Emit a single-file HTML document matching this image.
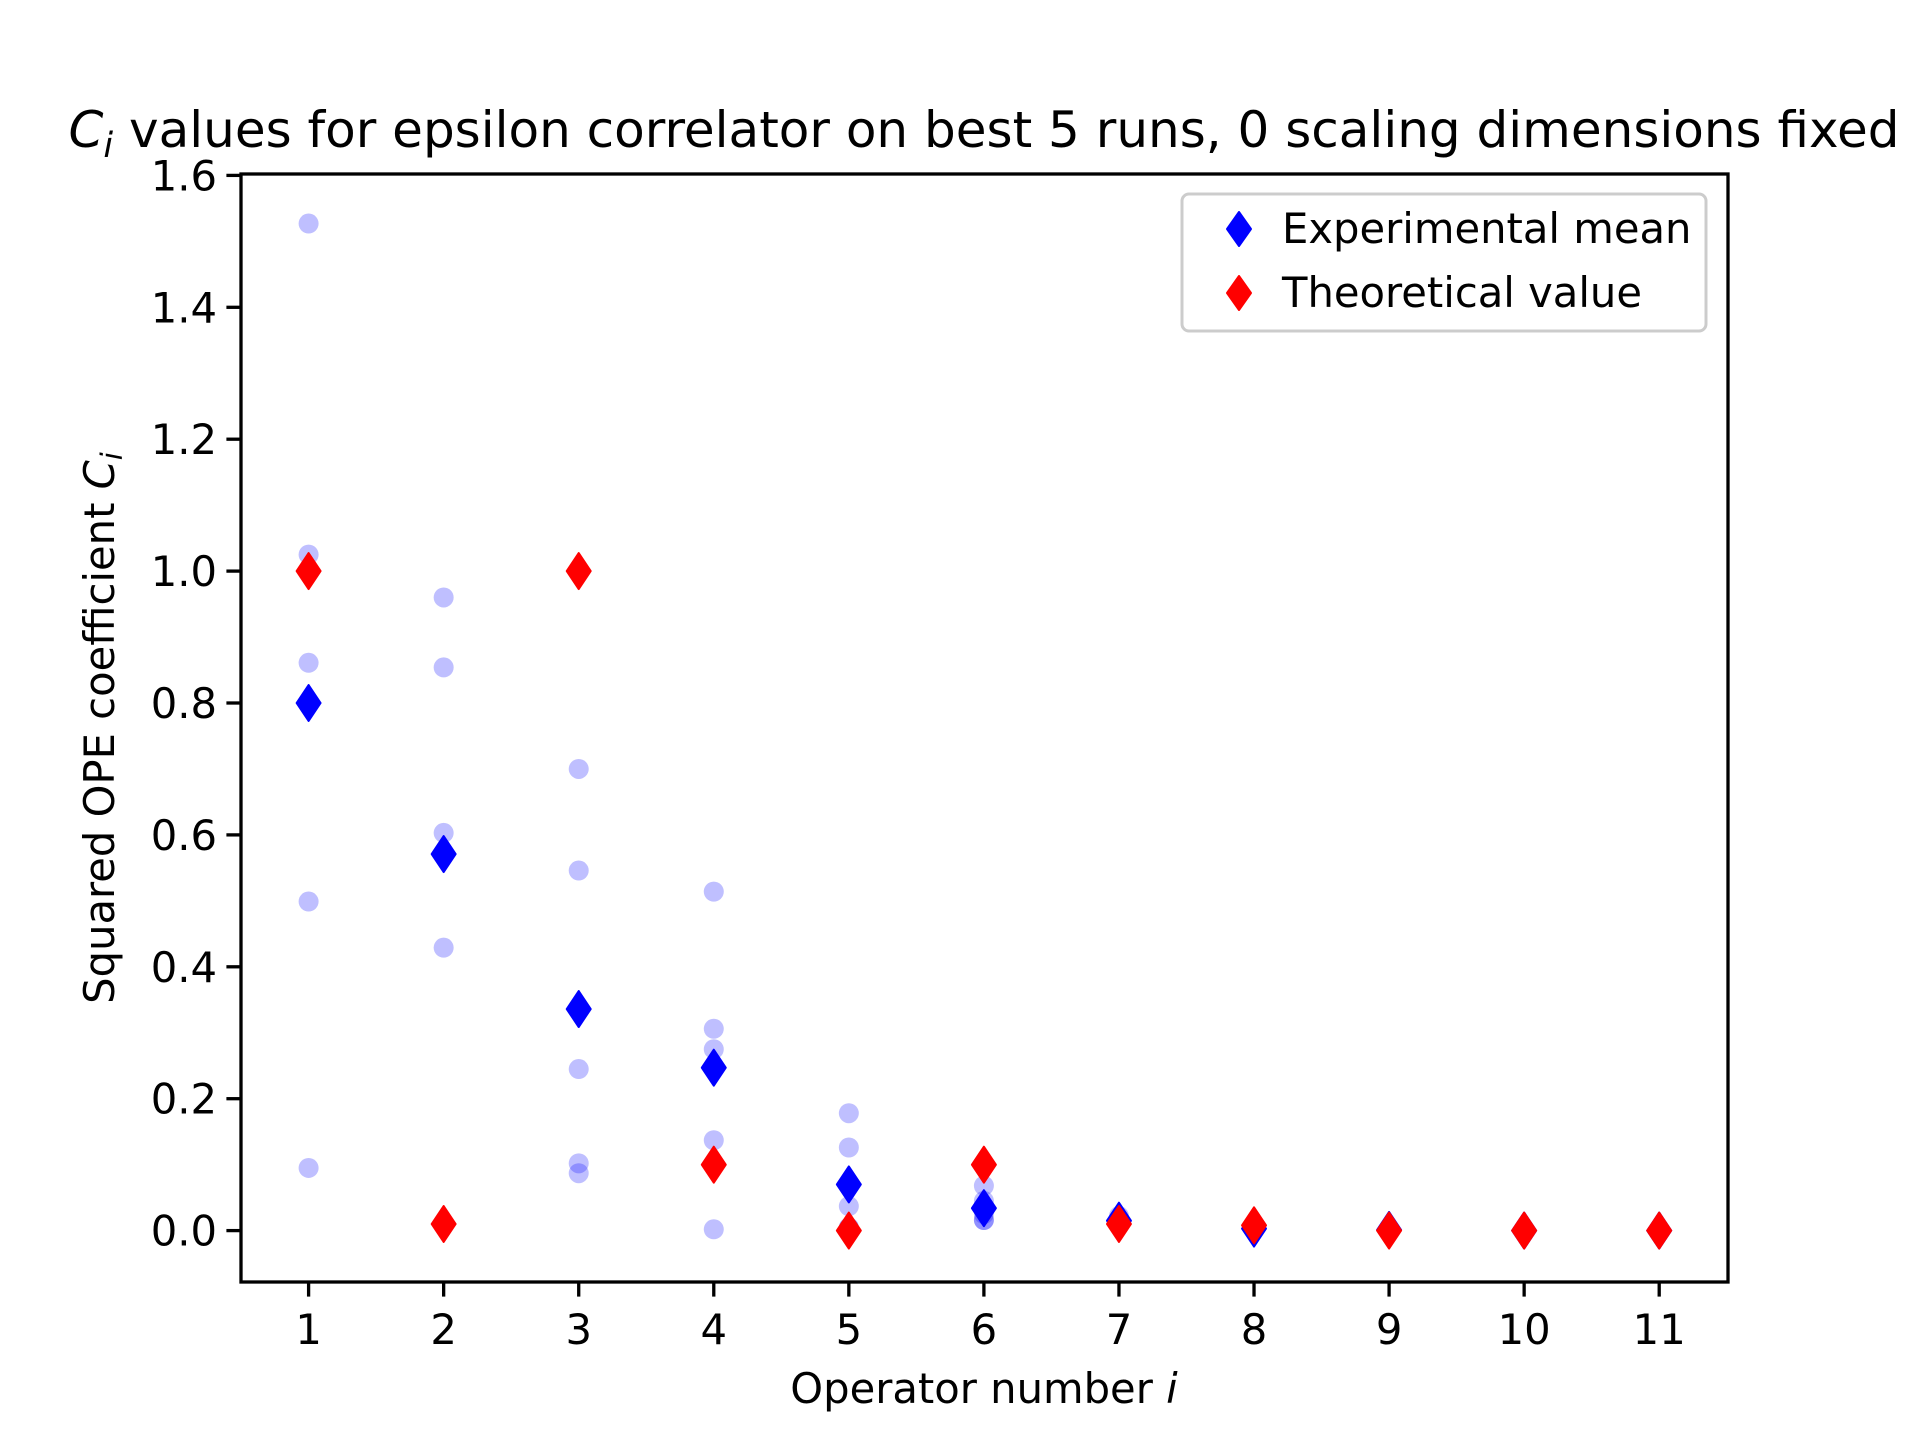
<!DOCTYPE html>
<html><head><meta charset="utf-8"><style>
html,body{margin:0;padding:0;background:#fff;}
svg{display:block;font-family:"DejaVu Sans","Liberation Sans",sans-serif;}
</style></head><body>
<svg id="chart" width="1920" height="1440" viewBox="0 0 1920 1440" xmlns="http://www.w3.org/2000/svg">
<rect x="0" y="0" width="1920" height="1440" fill="#fff"/>
<g id="marks"></g>
<g id="axes"></g>
<text x="984" y="147" font-size="50" text-anchor="middle"><tspan font-style="italic">C</tspan><tspan font-style="italic" font-size="35" dy="10">i</tspan><tspan dy="-10"> values for epsilon correlator on best 5 runs, 0 scaling dimensions fixed</tspan></text>
<text x="984" y="1403" font-size="41.7" text-anchor="middle">Operator number <tspan font-style="italic">i</tspan></text>
<text transform="translate(114,728) rotate(-90)" font-size="41.7" text-anchor="middle">Squared OPE coefficient <tspan font-style="italic">C</tspan><tspan font-style="italic" font-size="29" dy="8">i</tspan></text>
<g>
<rect x="1182" y="194" width="524" height="137" rx="7" fill="#fff" fill-opacity="0.8" stroke="#ccc" stroke-width="3"/>
<path d="M1239 212 L1251 229 L1239 246 L1227 229 Z" fill="#0000ff" stroke="#0000ff" stroke-width="2" stroke-linejoin="round"/>
<text x="1282" y="243" font-size="41.7">Experimental mean</text>
<path d="M1239 276 L1251 293 L1239 310 L1227 293 Z" fill="#ff0000" stroke="#ff0000" stroke-width="2" stroke-linejoin="round"/>
<text x="1282" y="307" font-size="41.7">Theoretical value</text>
</g>
</svg>
<script>
const operators = [1,2,3,4,5,6,7,8,9,10,11];
const runValues = [
  [1.527,1.025,0.861,0.499,0.095],
  [0.96,0.854,0.603,0.429,0.009],
  [0.70,0.546,0.245,0.102,0.087],
  [0.514,0.306,0.275,0.137,0.002],
  [0.178,0.126,0.037,0.005,0.004],
  [0.068,0.045,0.025,0.016,0.016],
  [0.022,0.018,0.015,0.012,0.008],
  [0.006,0.004,0.003,0.002,0.001],
  [0.001,0.001,0.001,0.0,0.0],
  [0.001,0.0,0.0,0.0,0.0],
  [0.0,0.0,0.0,0.0,0.0]
];
const meanValues = [0.80,0.571,0.336,0.247,0.070,0.034,0.015,0.003,0.001,0.0,0.0];
const theoryValues = [1.0,0.01,1.0,0.1,0.0,0.1,0.01,0.008,0.0,0.0,0.0];
const xTicks = [1,2,3,4,5,6,7,8,9,10,11];
const yTicks = [0.0,0.2,0.4,0.6,0.8,1.0,1.2,1.4,1.6];

const L=241,R=1728,T=174,B=1282;
function xs(v){return 308.6+(v-1)*135.06;}
function ys(v){return 1230.6-v*659.5;}
const NS='http://www.w3.org/2000/svg';
const marks=document.getElementById('marks');
const axes=document.getElementById('axes');
function mk(tag,attrs,parent){const e=document.createElementNS(NS,tag);for(const k in attrs)e.setAttribute(k,attrs[k]);parent.appendChild(e);return e;}
function diamond(x,y){return `M${x} ${y-18} L${x+12} ${y} L${x} ${y+18} L${x-12} ${y} Z`;}

runValues.forEach((arr,i)=>{arr.forEach(v=>{
  const c=mk('circle',{cx:xs(operators[i]),cy:ys(v),r:10,fill:'#0000ff','fill-opacity':0.25},marks);
  
  
});});
meanValues.forEach((v,i)=>{
  const p=mk('path',{d:diamond(xs(operators[i]),ys(v)),fill:'#0000ff',stroke:'#0000ff','stroke-width':2,'stroke-linejoin':'round'},marks);
  
  
});
theoryValues.forEach((v,i)=>{
  const p=mk('path',{d:diamond(xs(operators[i]),ys(v)),fill:'#ff0000',stroke:'#ff0000','stroke-width':2,'stroke-linejoin':'round'},marks);
  
  
});

const frame=mk('rect',{x:L,y:T,width:R-L,height:B-T,fill:'none',stroke:'#000','stroke-width':3.3},axes);


xTicks.forEach(t=>{
  const x=xs(t);
  const ln=mk('line',{x1:x,y1:B,x2:x,y2:B+14.6,stroke:'#000','stroke-width':3.3},axes);
  
  
  const tx=mk('text',{x:x,y:B+62,'font-size':41.7,'text-anchor':'middle'},axes);
  tx.textContent=String(t);
  
  
});
yTicks.forEach(t=>{
  const y=ys(t);
  const ln=mk('line',{x1:L-14.6,y1:y,x2:L,y2:y,stroke:'#000','stroke-width':3.3},axes);
  
  
  const tx=mk('text',{x:L-24,y:y+15,'font-size':41.7,'text-anchor':'end'},axes);
  tx.textContent=t.toFixed(1);
  
  
});
</script>
</body></html>
